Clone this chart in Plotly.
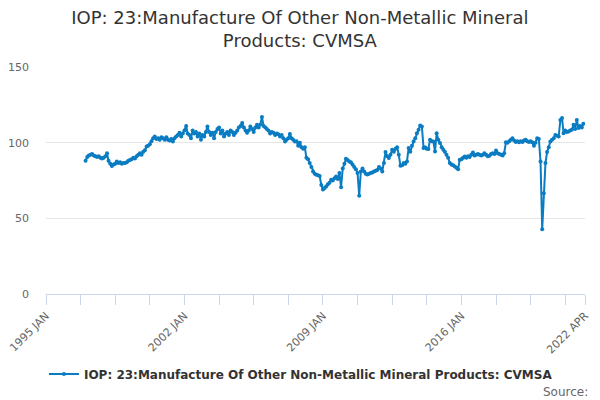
import pandas as pd
import plotly.graph_objects as go

# monthly index values (first point = 1997 JAN)
start_month = "1997-01-01"
values = [
    88, 90.5, 91.5, 92, 92.5, 91.5, 91, 90.5, 91, 90, 89.5, 90,          # 1997
    91, 93, 88, 86, 84.5, 85.5, 86, 87.5, 86.5, 87, 86, 86.5,            # 1998
    86.5, 87, 88, 88.5, 89, 90, 89.5, 91, 92, 93, 92, 94,                # 1999
    95, 97.5, 98, 99, 101, 103, 104, 102.5, 103, 102, 103.5, 103,        # 2000
    102, 103.5, 102, 101.5, 102.5, 100.8, 103, 104, 105, 106.5, 104, 106,  # 2001
    108, 111, 106, 105, 103, 108, 106, 107, 104, 106, 102, 105,          # 2002
    104, 107, 110.7, 107, 105, 106.5, 103, 107, 109, 110, 106, 108,      # 2003
    104, 106, 107, 105, 108, 107, 105, 106.5, 108, 110, 111, 113,        # 2004
    110, 108, 106.5, 108, 110.7, 109, 107, 110, 111.8, 110, 112, 117,    # 2005
    111, 110, 109, 108, 106, 107, 106.5, 105, 106, 105.5, 104, 105,      # 2006
    103, 100.8, 102, 103, 105.7, 103, 102, 100.8, 101, 98, 100, 97,      # 2007
    96, 97, 90, 89, 86.5, 84, 81, 79.5, 78.8, 78.5, 78, 72,              # 2008
    69, 70, 71, 72.5, 73.5, 75.5, 75, 76.5, 77.6, 76, 80, 70.6,          # 2009
    83, 86, 89.3, 88.5, 87.6, 87, 85.5, 84, 82.5, 80, 65, 81,            # 2010
    83, 81, 79.4, 79, 79.5, 80, 80.3, 81, 81.5, 82, 84, 83,              # 2011
    81, 86.5, 93.8, 91, 89.8, 92, 95.3, 94, 96, 96.9, 92, 84.7,          # 2012
    85, 86.5, 86, 87.6, 96.4, 94, 98, 100.8, 103, 106.3, 108.5, 111.4,   # 2013
    110.7, 96.4, 97, 96, 95.8, 102, 101, 100.8, 94.2, 106.3, 102, 99.7,  # 2014
    97, 95.3, 94, 92, 90, 86.5, 85.5, 85, 84.3, 83.5, 82.5, 88.7,        # 2015
    89, 90, 90.9, 90, 91, 90.5, 92, 93.5, 91.5, 92, 92.5, 92,            # 2016
    91.5, 92, 93, 92, 91, 91.3, 92.5, 93, 92.5, 94.8, 93, 92.5,          # 2017
    92, 91.5, 93, 100.2, 100, 101, 102, 103, 101.5, 100.5, 101, 100.2,   # 2018
    101, 100.5, 101.5, 102, 101, 100.5, 101, 100.2, 98, 100, 103, 102.4, # 2019
    87.6, 42.8, 66.6, 86.5, 93.8, 97, 100.8, 102, 103, 105, 104.5, 104,  # 2020
    115, 116.3, 106.3, 108, 107, 107.4, 108, 108.5, 111.8, 109, 115, 109.7,  # 2021
    111, 110, 112.5,                                                     # 2022
]
dates = pd.date_range(start_month, periods=len(values), freq="MS")

# x-axis ticks every 21 months, labels on every fourth one
tick_dates = list(pd.date_range("1995-01-01", "2021-12-01", freq="21MS")) + [pd.Timestamp("2022-04-01")]
tick_labels = ["1995 JAN", "", "", "", "2002 JAN", "", "", "", "2009 JAN", "", "", "",
               "2016 JAN", "", "", "", "2022 APR"]

series_name = "IOP: 23:Manufacture Of Other Non-Metallic Mineral Products: CVMSA"
blue = "#0a7cc2"

fig = go.Figure()
fig.add_trace(go.Scatter(
    x=dates, y=values, mode="lines+markers", name=series_name,
    line=dict(color=blue, width=2), marker=dict(color=blue, size=4),
))

# page body adds ~8px offset, so the figure is drawn 8px smaller
fig.update_layout(
    width=592, height=392,
    paper_bgcolor="white", plot_bgcolor="white",
    font=dict(family="DejaVu Sans", color="#333333"),
    title=dict(text="IOP: 23:Manufacture Of Other Non-Metallic Mineral<br>Products: CVMSA",
               x=0.493, xanchor="center", y=0.96, yanchor="top",
               font=dict(size=18, color="#333333")),
    margin=dict(l=38, r=15, t=59, b=106),
    showlegend=True,
    legend=dict(orientation="h", x=0.473, xanchor="center", y=-0.352, yanchor="middle",
                font=dict(size=12, color="#333333", weight="bold"), itemwidth=30),
    xaxis=dict(
        range=["1995-01-01", "2022-04-01"], automargin=False,
        tickmode="array", tickvals=tick_dates, ticktext=tick_labels,
        tickangle=-45, tickfont=dict(size=11, color="#666666"),
        ticklabeloverflow="allow",
        ticks="outside", ticklen=10, tickcolor="#ccd6eb",
        showline=True, linecolor="#ccd6eb", showgrid=False, zeroline=False,
    ),
    yaxis=dict(
        range=[0, 150], tickvals=[0, 50, 100, 150], automargin=False,
        tickfont=dict(size=11, color="#666666"),
        gridcolor="#e6e6e6", zeroline=False, showline=False,
        ticklabelstandoff=16,
    ),
    annotations=[dict(text="Source:", xref="paper", yref="paper", x=1.01, y=-0.432,
                      xanchor="right", yanchor="middle", showarrow=False,
                      font=dict(size=12, color="#666666"))],
)

fig.write_html("out.html")
